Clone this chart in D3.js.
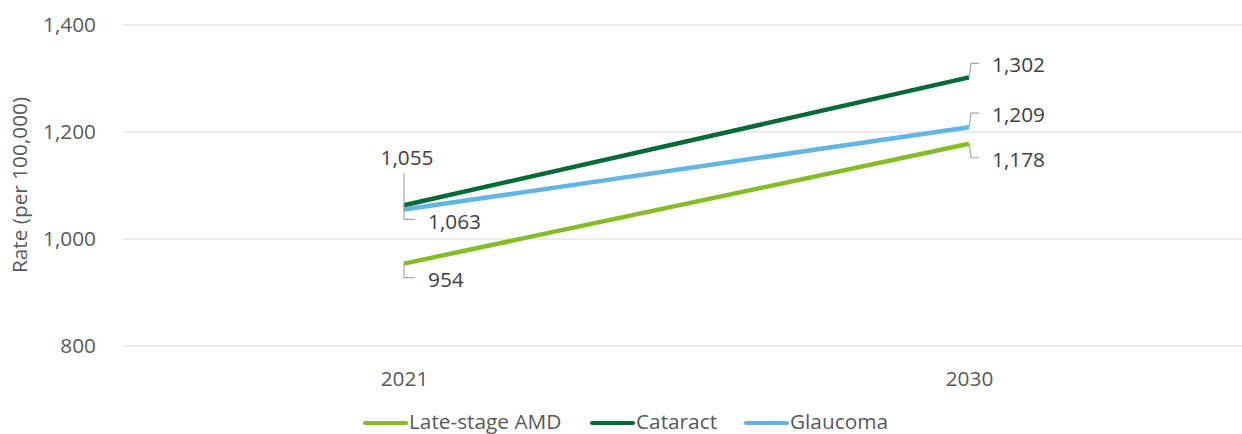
<!DOCTYPE html>
<html><head><meta charset="utf-8">
<script src="https://cdn.jsdelivr.net/npm/d3@7"></script>
<style>
html,body{margin:0;padding:0;background:#fff;}
svg{display:block;font-family:"Open Sans",sans-serif;}
</style></head>
<body><svg id="c" width="1242" height="434"></svg>
<script>
const years = ["2021", "2030"];
const seriesNames = ["Late-stage AMD", "Cataract", "Glaucoma"];
const amdValues = [954, 1178];
const cataractValues = [1063, 1302];
const glaucomaValues = [1055, 1209];
const yTicks = [800, 1000, 1200, 1400];
const colors = ["#86bc25", "#046a38", "#62b5e5"];
// label placement per series per year: -1 above, +1 below
const labelDirs = {
  "Late-stage AMD": [1, 1],
  "Cataract": [1, -1],
  "Glaucoma": [-1, -1]
};

const series = [
  {name: seriesNames[0], values: amdValues, color: colors[0]},
  {name: seriesNames[1], values: cataractValues, color: colors[1]},
  {name: seriesNames[2], values: glaucomaValues, color: colors[2]}
];

const FS = 20.8;
const svg = d3.select("#c");
const x = d3.scalePoint().domain(years).range([404, 969]);
const y = d3.scaleLinear().domain([800, 1400]).range([346, 25]);
const fmt = d3.format(",");
const textCol = "#595959";

// gridlines
svg.append("g").selectAll("line").data(yTicks).join("line")
  .attr("x1", 124).attr("x2", 1242)
  .attr("y1", d => y(d)).attr("y2", d => y(d))
  .attr("stroke", "#d9d9d9").attr("stroke-width", 1.2);

// y axis
const yAxis = svg.append("g").attr("transform", "translate(96,0)")
  .call(d3.axisLeft(y).tickValues(yTicks).tickFormat(fmt).tickSize(0).tickPadding(0));
yAxis.select(".domain").remove();
yAxis.selectAll("text").attr("font-size", FS).attr("fill", textCol)
  .attr("font-family", "Open Sans");

// x axis
const xAxis = svg.append("g").attr("transform", "translate(0,371)")
  .call(d3.axisBottom(x).tickSize(0).tickPadding(0));
xAxis.select(".domain").remove();
xAxis.selectAll("text").attr("font-size", FS).attr("fill", textCol)
  .attr("font-family", "Open Sans");

// y title
svg.append("text").attr("transform", "translate(27,185) rotate(-90)")
  .attr("text-anchor", "middle").attr("font-size", FS).attr("fill", textCol)
  .text("Rate (per 100,000)");

// lines
const line = d3.line().x((d, i) => x(years[i])).y(d => y(d));
svg.append("g").selectAll("path").data(series).join("path")
  .attr("d", d => line(d.values))
  .attr("fill", "none").attr("stroke", d => d.color)
  .attr("stroke-width", 4.5).attr("stroke-linecap", "butt");

// data labels with leaders
const lab = svg.append("g");
series.forEach(s => {
  s.values.forEach((v, i) => {
    const px = x(years[i]), py = y(v);
    const dir = labelDirs[s.name][i];
    let pts, tx, ty, anchor;
    if (i === 0 && dir < 0) {
      pts = [[px, py], [px, py - 36]];
      tx = px + 3; ty = py - 52; anchor = "middle";
    } else if (i === 0) {
      pts = [[px, py], [px, py + 14], [px + 11, py + 14]];
      tx = px + 24; ty = py + 16; anchor = "start";
    } else {
      const ly = dir < 0 ? py - 14 : py + 14;
      pts = [[px, py], [px + 2, ly], [px + 10, ly]];
      tx = px + 23; ty = ly + 1.5; anchor = "start";
    }
    lab.append("path").attr("d", d3.line()(pts)).attr("fill", "none")
      .attr("stroke", "#a6a6a6").attr("stroke-width", 1.2);
    lab.append("text").attr("x", tx).attr("y", ty).attr("dy", "0.35em")
      .attr("text-anchor", anchor).attr("font-size", FS).attr("fill", "#404040")
      .text(fmt(v));
  });
});

// legend
const legendX = [365, 592, 746];
const leg = svg.append("g");
series.forEach((s, i) => {
  const g = leg.append("g").attr("transform", `translate(${legendX[i]},423)`);
  g.append("line").attr("x1", 0).attr("x2", 41).attr("y1", 0).attr("y2", 0)
    .attr("stroke", s.color).attr("stroke-width", 4).attr("stroke-linecap", "round");
  g.append("text").attr("x", 44).attr("y", -1).attr("dy", "0.35em")
    .attr("font-size", FS).attr("fill", textCol).text(s.name);
});
</script></body></html>
